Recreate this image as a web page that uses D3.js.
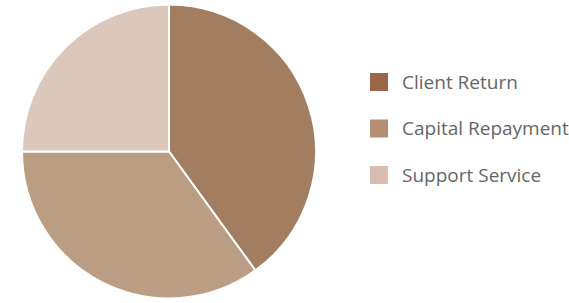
<!DOCTYPE html>
<html lang="en">
<head>
<meta charset="UTF-8" />
<script src="https://d3js.org/d3.v7.min.js"></script>
<style>
  body { margin: 0; background: #fff; overflow: hidden; }
  text { font-family: "Open Sans", "Noto Sans", sans-serif; }
</style>
</head>
<body>
<script>
var width = 569, height = 303;

var categories = ["Client Return", "Capital Repayment", "Support Service"];
var values = [40, 35, 25];
var sliceColors = ["#a27d5f", "#bb9d84", "#dcc8bb"];
var legendColors = ["#9b6548", "#b58d74", "#d8bdb0"];

var data = categories.map(function(c, i) { return { name: c, value: values[i] }; });

var svg = d3.select("body").append("svg").attr("width", width).attr("height", height);

var cx = 169, cy = 151.5, r = 147;

var pie = d3.pie().sort(null).value(function(d) { return d.value; });
var arc = d3.arc().innerRadius(0).outerRadius(r);
var color = d3.scaleOrdinal().domain(categories).range(sliceColors);
var legendColor = d3.scaleOrdinal().domain(categories).range(legendColors);

svg.append("g")
  .attr("transform", "translate(" + cx + "," + cy + ")")
  .selectAll("path")
  .data(pie(data))
  .enter().append("path")
  .attr("d", arc)
  .attr("fill", function(d) { return color(d.data.name); })
  .attr("stroke", "#fff")
  .attr("stroke-width", 2);

// legend
var ly = d3.scalePoint().domain(categories).range([82, 175]);
var legend = svg.append("g").selectAll("g")
  .data(categories)
  .enter().append("g")
  .attr("transform", function(d) { return "translate(370," + ly(d) + ")"; });

legend.append("rect")
  .attr("x", 0).attr("y", -9)
  .attr("width", 18).attr("height", 18)
  .attr("fill", function(d) { return legendColor(d); });

legend.append("text")
  .attr("x", 32).attr("y", 0)
  .attr("dy", "0.35em")
  .attr("font-size", 19)
  .attr("fill", "#666")
  .text(function(d) { return d; });
</script>
</body>
</html>
